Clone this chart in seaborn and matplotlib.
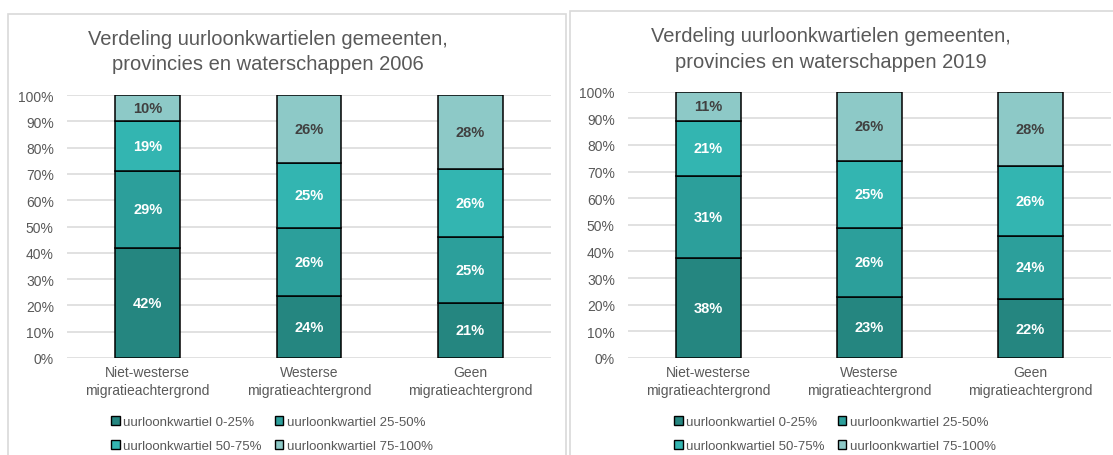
import numpy as np
import pandas as pd
import matplotlib
matplotlib.use("Agg")
import matplotlib.pyplot as plt
from matplotlib.patches import Patch, Rectangle
import seaborn as sns

# Categories and quartile shares (percent) per year
categories = ["Niet-westerse\nmigratieachtergrond", "Westerse\nmigratieachtergrond", "Geen\nmigratieachtergrond"]
quartiles = ["uurloonkwartiel 0-25%", "uurloonkwartiel 25-50%",
             "uurloonkwartiel 50-75%", "uurloonkwartiel 75-100%"]

q0_25_2006 = [42, 24, 21]
q25_50_2006 = [29, 26, 25]
q50_75_2006 = [19, 25, 26]
q75_100_2006 = [10, 26, 28]

q0_25_2019 = [38, 23, 22]
q25_50_2019 = [31, 26, 24]
q50_75_2019 = [21, 25, 26]
q75_100_2019 = [11, 26, 28]

yticks = [0, 10, 20, 30, 40, 50, 60, 70, 80, 90, 100]
ytick_labels = [f"{t}%" for t in yticks]

colors = ["#258680", "#2C9F9B", "#33B5B1", "#8DC9C7"]
label_colors = ["white", "white", "white", "#404040"]
text_gray = "#595959"
grid_gray = "#D9D9D9"

sns.set_theme(style="white")
plt.rcParams["font.family"] = ["Liberation Sans", "DejaVu Sans"]

W, H = 1113, 456
fig = plt.figure(figsize=(W / 100, H / 100), dpi=100)
fig.patch.set_facecolor("white")


def fx(px):
    return px / W


def fy(py):
    return 1 - py / H


# Chart-area frames
fig.add_artist(Rectangle((fx(8), fy(470)), fx(566 - 8), (470 - 15) / H,
                         transform=fig.transFigure, fill=False,
                         edgecolor=grid_gray, linewidth=1.2))
fig.add_artist(Rectangle((fx(570), fy(470)), fx(1125 - 570), (470 - 11.5) / H,
                         transform=fig.transFigure, fill=False,
                         edgecolor=grid_gray, linewidth=1.2))


def draw_panel(ax, series, title, title_x, title_y, legend_x):
    data = np.array(series, dtype=float)  # shape (4, 3)
    totals = data.sum(axis=0)
    shares = data / totals * 100
    bottom = np.zeros(len(categories))
    for i in range(len(quartiles)):
        df = pd.DataFrame({"cat": categories, "val": shares[i]})
        n_before = len(ax.containers)
        sns.barplot(data=df, x="cat", y="val", bottom=bottom, color=colors[i],
                    saturation=1, width=0.4, edgecolor="black", linewidth=1.1,
                    ax=ax, errorbar=None)
        cont = ax.containers[n_before]
        ax.bar_label(cont, labels=[f"{int(v)}%" for v in data[i]],
                     label_type="center", color=label_colors[i],
                     fontsize=10.5, fontweight="bold")
        bottom = bottom + shares[i]

    ax.set_ylim(0, 100)
    ax.set_xlim(-0.5, 2.5)
    ax.set_yticks(yticks)
    ax.set_yticklabels(ytick_labels)
    ax.yaxis.grid(True, color=grid_gray, linewidth=1.1)
    ax.set_axisbelow(True)
    for s in ax.spines.values():
        s.set_visible(False)
    ax.tick_params(axis="y", length=0, pad=9.5, labelsize=10, labelcolor=text_gray)
    ax.tick_params(axis="x", length=0, pad=5, labelsize=10, labelcolor=text_gray)
    for lbl in ax.get_xticklabels():
        lbl.set_linespacing(1.35)
    ax.set_xlabel("")
    ax.set_ylabel("")

    fig.text(title_x, title_y, title, ha="center", va="center", fontsize=14.5,
             color=text_gray, linespacing=1.45)

    # row-wise legend order: 0-25, 25-50 / 50-75, 75-100
    order = [0, 2, 1, 3]
    handles = [Patch(facecolor=colors[k], edgecolor="black", linewidth=1) for k in order]
    labels = [quartiles[k] for k in order]
    fig.legend(handles, labels, loc="center", bbox_to_anchor=(legend_x, fy(435)),
               ncol=2, frameon=False, fontsize=9.5, labelcolor=text_gray,
               handlelength=0.65, handleheight=0.65, handletextpad=0.25,
               columnspacing=1.0, labelspacing=0.9, borderpad=0)


ax1 = fig.add_axes([fx(67), fy(359), fx(551 - 67), (359 - 96) / H])
draw_panel(ax1, [q0_25_2006, q25_50_2006, q50_75_2006, q75_100_2006],
           "Verdeling uurloonkwartielen gemeenten,\nprovincies en waterschappen 2006",
           fx(268), fy(52), fx(272))

ax2 = fig.add_axes([fx(628), fy(359), fx(1111 - 628), (359 - 92.7) / H])
draw_panel(ax2, [q0_25_2019, q25_50_2019, q50_75_2019, q75_100_2019],
           "Verdeling uurloonkwartielen gemeenten,\nprovincies en waterschappen 2019",
           fx(831), fy(49.5), fx(835))

fig.savefig("out.png", dpi=100, facecolor="white")
